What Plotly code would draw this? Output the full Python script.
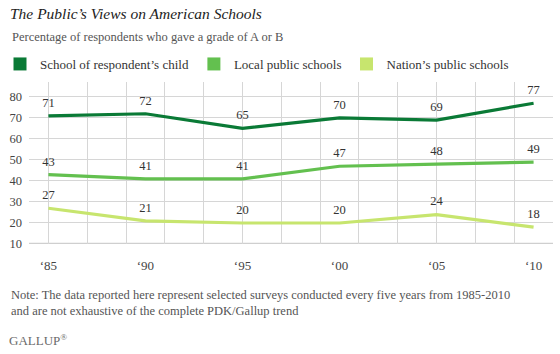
import plotly.graph_objects as go

years = [1985, 1990, 1995, 2000, 2005, 2010]
tick_text = ["‘85", "‘90", "‘95", "‘00", "‘05", "‘10"]
child = [71, 72, 65, 70, 69, 77]
local = [43, 41, 41, 47, 48, 49]
nation = [27, 21, 20, 20, 24, 18]

series_names = ["School of respondent’s child", "Local public schools", "Nation’s public schools"]
series_values = [child, local, nation]
colors = ["#0a7a36", "#63c04f", "#c7e56e"]

FONT = "'Liberation Serif', Georgia, serif"

PLOT_TOP, PLOT_BOTTOM = 82, 244
PLOT_H = PLOT_BOTTOM - PLOT_TOP


def py(ypx):
    return (PLOT_BOTTOM - ypx) / PLOT_H


fig = go.Figure()
for name, vals, col in zip(series_names, series_values, colors):
    fig.add_trace(go.Scatter(
        x=years, y=vals, mode="lines+markers+text", name=name,
        line=dict(color=col, width=3.2),
        marker=dict(size=8, color="rgba(0,0,0,0)"),
        text=[str(v) for v in vals], textposition="top center",
        textfont=dict(family=FONT, size=12.5, color="#333333"),
        showlegend=False, hoverinfo="skip", cliponaxis=False,
    ))
for name, col in zip(series_names, colors):
    fig.add_trace(go.Scatter(
        x=[None], y=[None], mode="markers", name=name,
        marker=dict(symbol="square", size=13, color=col, line=dict(width=0)),
        showlegend=True,
    ))

fig.update_layout(
    width=560, height=354,
    margin=dict(l=29, r=7, t=PLOT_TOP, b=354 - PLOT_BOTTOM, autoexpand=False),
    paper_bgcolor="white", plot_bgcolor="white",
    font=dict(family=FONT, size=12, color="#333333"),
    title=dict(text="<i>The Public’s Views on American Schools</i>",
               x=10/560, xref="container", xanchor="left",
               y=1-14/354, yref="container", yanchor="middle",
               font=dict(family=FONT, size=15.5, color="#222222")),
    legend=dict(orientation="h", xref="container", yref="container",
                x=-14/560, xanchor="left", y=1-64/354, yanchor="middle",
                font=dict(family=FONT, size=13, color="#333333"),
                itemwidth=30, bgcolor="rgba(0,0,0,0)"),
    xaxis=dict(range=[1984, 2011], tickvals=years, ticktext=tick_text,
               showgrid=False, zeroline=False, showline=False,
               ticks="", ticklabelstandoff=12, automargin=False,
               tickfont=dict(family=FONT, size=13, color="#444444"),
               minor=dict(tickvals=list(range(1985, 2012, 2)), showgrid=True,
                          gridcolor="#d6d6d6", gridwidth=1, ticks="")),
    yaxis=dict(range=[10, 87.1], dtick=10, tick0=10, automargin=False,
               showgrid=True, gridcolor="#d6d6d6", gridwidth=1,
               zeroline=False, showline=False, ticks="", ticklabelstandoff=6,
               tickfont=dict(family=FONT, size=12.5, color="#444444")),
    annotations=[
        dict(text="Percentage of respondents who gave a grade of A or B",
             xref="paper", yref="paper", x=(10-29)/524, y=py(37),
             xanchor="left", yanchor="middle", showarrow=False,
             font=dict(family=FONT, size=12.5, color="#555555")),
        dict(text="Note: The data reported here represent selected surveys conducted every five years from 1985-2010<br>and are not exhaustive of the complete PDK/Gallup trend",
             xref="paper", yref="paper", x=(9-29)/524, y=py(303),
             xanchor="left", yanchor="middle", align="left", showarrow=False,
             font=dict(family=FONT, size=12.5, color="#555555")),
        dict(text="GALLUP<sup>®</sup>",
             xref="paper", yref="paper", x=(7-29)/524, y=py(340),
             xanchor="left", yanchor="middle", showarrow=False,
             font=dict(family=FONT, size=13, color="#6a6a6a")),
    ],
)
fig.add_shape(type="line", xref="paper", yref="y", x0=0, x1=1, y0=10, y1=10,
              line=dict(color="#cfcfcf", width=2.5), layer="below")

fig.write_html("out.html")
